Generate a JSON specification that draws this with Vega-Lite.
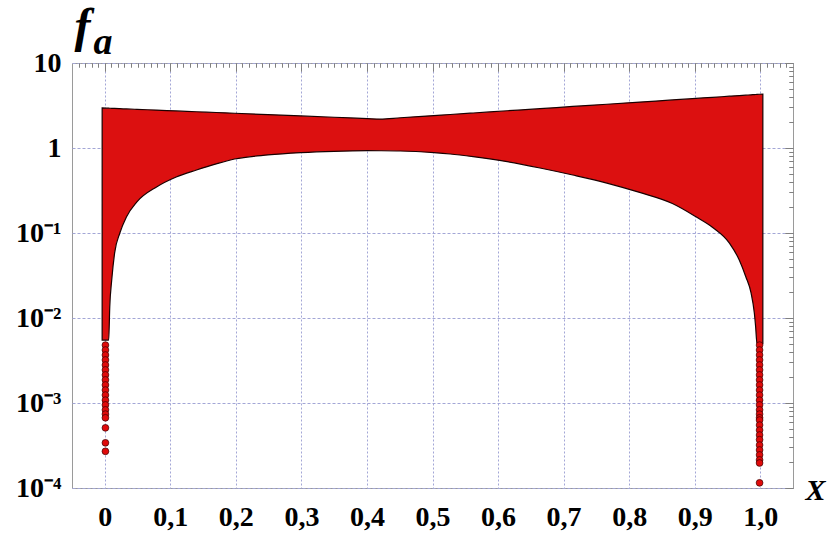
{
  "$schema": "https://vega.github.io/schema/vega-lite/v6.json",
  "width": 721,
  "height": 425,
  "autosize": {"type": "none"},
  "padding": {"left": 72, "top": 63, "right": 34, "bottom": 46},
  "background": "white",
  "config": {"view": {"stroke": "#9a9a9a", "strokeWidth": 1}},
  "datasets": {
    "band": [
      {"x": -0.004, "lo": 0.0055, "hi": 2.959},
      {"x": 0.006, "lo": 0.0055, "hi": 2.938},
      {"x": 0.0076, "lo": 0.0135, "hi": 2.936},
      {"x": 0.0106, "lo": 0.028, "hi": 2.930},
      {"x": 0.015, "lo": 0.058, "hi": 2.921},
      {"x": 0.023, "lo": 0.100, "hi": 2.904},
      {"x": 0.033, "lo": 0.154, "hi": 2.884},
      {"x": 0.049, "lo": 0.232, "hi": 2.850},
      {"x": 0.079, "lo": 0.348, "hi": 2.790},
      {"x": 0.109, "lo": 0.456, "hi": 2.731},
      {"x": 0.140, "lo": 0.551, "hi": 2.671},
      {"x": 0.170, "lo": 0.650, "hi": 2.615},
      {"x": 0.198, "lo": 0.742, "hi": 2.563},
      {"x": 0.249, "lo": 0.828, "hi": 2.472},
      {"x": 0.299, "lo": 0.881, "hi": 2.385},
      {"x": 0.350, "lo": 0.914, "hi": 2.300},
      {"x": 0.401, "lo": 0.929, "hi": 2.218},
      {"x": 0.420, "lo": 0.928, "hi": 2.188},
      {"x": 0.451, "lo": 0.922, "hi": 2.269},
      {"x": 0.502, "lo": 0.881, "hi": 2.407},
      {"x": 0.527, "lo": 0.850, "hi": 2.477},
      {"x": 0.562, "lo": 0.790, "hi": 2.580},
      {"x": 0.614, "lo": 0.690, "hi": 2.742},
      {"x": 0.664, "lo": 0.582, "hi": 2.905},
      {"x": 0.714, "lo": 0.481, "hi": 3.080},
      {"x": 0.766, "lo": 0.387, "hi": 3.271},
      {"x": 0.816, "lo": 0.300, "hi": 3.467},
      {"x": 0.866, "lo": 0.222, "hi": 3.675},
      {"x": 0.902, "lo": 0.155, "hi": 3.832},
      {"x": 0.927, "lo": 0.117, "hi": 3.945},
      {"x": 0.953, "lo": 0.0762, "hi": 4.067},
      {"x": 0.968, "lo": 0.0481, "hi": 4.138},
      {"x": 0.978, "lo": 0.0306, "hi": 4.187},
      {"x": 0.986, "lo": 0.0197, "hi": 4.226},
      {"x": 0.991, "lo": 0.01145, "hi": 4.251},
      {"x": 0.993, "lo": 0.0079, "hi": 4.261},
      {"x": 0.995, "lo": 0.0050, "hi": 4.271},
      {"x": 1.004, "lo": 0.0050, "hi": 4.315}
    ],
    "dots": [
      {"x": 0.001, "y": 0.0048}, {"x": 0.001, "y": 0.0042}, {"x": 0.001, "y": 0.00367},
      {"x": 0.001, "y": 0.00321}, {"x": 0.001, "y": 0.0028}, {"x": 0.001, "y": 0.00245},
      {"x": 0.001, "y": 0.00214}, {"x": 0.001, "y": 0.00187}, {"x": 0.001, "y": 0.00163},
      {"x": 0.001, "y": 0.00142}, {"x": 0.001, "y": 0.00124}, {"x": 0.001, "y": 0.00108},
      {"x": 0.001, "y": 0.00095}, {"x": 0.001, "y": 0.00083}, {"x": 0.001, "y": 0.00074},
      {"x": 0.001, "y": 0.00067}, {"x": 0.001, "y": 0.00051}, {"x": 0.001, "y": 0.00034},
      {"x": 0.001, "y": 0.00027},
      {"x": 0.999, "y": 0.0048}, {"x": 0.999, "y": 0.0042}, {"x": 0.999, "y": 0.00367},
      {"x": 0.999, "y": 0.00321}, {"x": 0.999, "y": 0.0028}, {"x": 0.999, "y": 0.00245},
      {"x": 0.999, "y": 0.00214}, {"x": 0.999, "y": 0.00187}, {"x": 0.999, "y": 0.00163},
      {"x": 0.999, "y": 0.00142}, {"x": 0.999, "y": 0.00124}, {"x": 0.999, "y": 0.00108},
      {"x": 0.999, "y": 0.00095}, {"x": 0.999, "y": 0.00083}, {"x": 0.999, "y": 0.00074},
      {"x": 0.999, "y": 0.00067}, {"x": 0.999, "y": 0.00063}, {"x": 0.999, "y": 0.00055},
      {"x": 0.999, "y": 0.00048}, {"x": 0.999, "y": 0.00042}, {"x": 0.999, "y": 0.00037},
      {"x": 0.999, "y": 0.00032}, {"x": 0.999, "y": 0.00028}, {"x": 0.999, "y": 0.000245},
      {"x": 0.999, "y": 0.000214}, {"x": 0.999, "y": 0.000197}, {"x": 0.999, "y": 0.000115}
    ]
  },
  "resolve": {"axis": {"x": "independent", "y": "independent"}},
  "layer": [
    {
      "data": {"name": "band"},
      "mark": {"type": "area", "fill": "#dc1010", "stroke": "#1a0000", "strokeWidth": 1.2, "interpolate": "monotone"},
      "encoding": {
        "x": {
          "field": "x", "type": "quantitative",
          "scale": {"domain": [-0.05, 1.05], "nice": false, "zero": false},
          "axis": {
            "values": [0, 0.1, 0.2, 0.3, 0.4, 0.5, 0.6, 0.7, 0.8, 0.9, 1.0],
            "labelExpr": "datum.value == 0 ? '0' : replace(format(datum.value, '.1f'), '.', ',')",
            "labelFont": "Liberation Serif", "labelFontWeight": "bold", "labelFontSize": 28,
            "labelColor": "#000", "labelPadding": 15, "labelFlush": false, "labelOverlap": false,
            "ticks": false, "domain": false,
            "grid": true, "gridColor": "#a3a6d6", "gridDash": [2, 2], "gridWidth": 1,
            "title": "X", "titleFont": "Liberation Serif", "titleFontStyle": "italic",
            "titleFontWeight": "bold", "titleFontSize": 30, "titleColor": "#000",
            "titleAngle": 0, "titleX": 733, "titleY": 11, "titleAlign": "left", "titleBaseline": "alphabetic",
            "zindex": 0
          }
        },
        "y": {
          "field": "lo", "type": "quantitative",
          "scale": {"type": "log", "domain": [0.0001, 10], "nice": false},
          "axis": {
            "values": [0.0001, 0.001, 0.01, 0.1, 1, 10],
            "labelExpr": "datum.value >= 1 ? format(datum.value, 'd') : round(log(datum.value)/LN10) == -1 ? '10⁻¹' : round(log(datum.value)/LN10) == -2 ? '10⁻²' : round(log(datum.value)/LN10) == -3 ? '10⁻³' : '10⁻⁴'",
            "labelFont": "Liberation Serif", "labelFontWeight": "bold", "labelFontSize": 28,
            "labelColor": "#000", "labelPadding": 11, "labelFlush": false, "labelOverlap": false,
            "ticks": false, "domain": false,
            "grid": true, "gridColor": "#a3a6d6", "gridDash": [3, 2], "gridWidth": 1,
            "title": "f", "titleFont": "Liberation Serif", "titleFontStyle": "italic",
            "titleFontWeight": "bold", "titleFontSize": 48, "titleColor": "#000",
            "titleAngle": 0, "titleX": 2, "titleY": -22, "titleAlign": "left", "titleBaseline": "alphabetic",
            "zindex": 0
          }
        },
        "y2": {"field": "hi"}
      }
    },
    {
      "data": {"name": "dots"},
      "mark": {"type": "circle", "size": 46, "fill": "#e00a0a", "stroke": "#3a0000", "strokeWidth": 0.7, "opacity": 1},
      "encoding": {
        "x": {
          "field": "x", "type": "quantitative",
          "axis": {"values": [0, 0.1, 0.2, 0.3, 0.4, 0.5, 0.6, 0.7, 0.8, 0.9, 1.0], "labels": false, "grid": false, "domain": false, "tickSize": -8, "tickColor": "#808080", "title": null, "zindex": 1}
        },
        "y": {
          "field": "y", "type": "quantitative",
          "axis": {"values": [0.0001, 0.001, 0.01, 0.1, 1, 10], "labels": false, "grid": false, "domain": false, "tickSize": -8, "tickColor": "#808080", "title": null, "zindex": 1}
        }
      }
    },
    {
      "data": {"name": "band"},
      "mark": {"type": "point", "opacity": 0},
      "encoding": {
        "x": {
          "field": "x", "type": "quantitative",
          "axis": {"values": [-0.04,-0.03,-0.02,-0.01,0.01,0.02,0.03,0.04,0.05,0.06,0.07,0.08,0.09,0.11,0.12,0.13,0.14,0.15,0.16,0.17,0.18,0.19,0.21,0.22,0.23,0.24,0.25,0.26,0.27,0.28,0.29,0.31,0.32,0.33,0.34,0.35,0.36,0.37,0.38,0.39,0.41,0.42,0.43,0.44,0.45,0.46,0.47,0.48,0.49,0.51,0.52,0.53,0.54,0.55,0.56,0.57,0.58,0.59,0.61,0.62,0.63,0.64,0.65,0.66,0.67,0.68,0.69,0.71,0.72,0.73,0.74,0.75,0.76,0.77,0.78,0.79,0.81,0.82,0.83,0.84,0.85,0.86,0.87,0.88,0.89,0.91,0.92,0.93,0.94,0.95,0.96,0.97,0.98,0.99,1.01,1.02,1.03,1.04], "labels": false, "grid": false, "domain": false, "tickSize": -4, "tickColor": "#808080", "title": null, "zindex": 1}
        },
        "y": {
          "field": "lo", "type": "quantitative",
          "axis": {"values": [0.0002,0.0003,0.0004,0.0005,0.0006,0.0007,0.0008,0.0009,0.002,0.003,0.004,0.005,0.006,0.007,0.008,0.009,0.02,0.03,0.04,0.05,0.06,0.07,0.08,0.09,0.2,0.3,0.4,0.5,0.6,0.7,0.8,0.9,2,3,4,5,6,7,8,9], "labels": false, "grid": false, "domain": false, "tickSize": -4, "tickColor": "#808080", "title": null, "zindex": 1}
        }
      }
    },
    {
      "data": {"name": "band"},
      "mark": {"type": "point", "opacity": 0},
      "encoding": {
        "x": {
          "field": "x", "type": "quantitative",
          "axis": {"orient": "top", "values": [0, 0.1, 0.2, 0.3, 0.4, 0.5, 0.6, 0.7, 0.8, 0.9, 1.0], "labels": false, "grid": false, "domain": false, "tickSize": -8, "tickColor": "#808080",
            "title": "a", "titleFont": "Liberation Serif", "titleFontStyle": "italic",
            "titleFontWeight": "bold", "titleFontSize": 38, "titleColor": "#000",
            "titleAngle": 0, "titleX": 21, "titleY": -10, "titleAlign": "left", "titleBaseline": "alphabetic",
            "zindex": 1}
        },
        "y": {
          "field": "hi", "type": "quantitative",
          "axis": {"orient": "right", "values": [0.0001, 0.001, 0.01, 0.1, 1, 10], "labels": false, "grid": false, "domain": false, "tickSize": -8, "tickColor": "#808080", "title": null, "zindex": 1}
        }
      }
    },
    {
      "data": {"name": "band"},
      "mark": {"type": "point", "opacity": 0},
      "encoding": {
        "x": {
          "field": "x", "type": "quantitative",
          "axis": {"orient": "top", "values": [-0.04,-0.03,-0.02,-0.01,0.01,0.02,0.03,0.04,0.05,0.06,0.07,0.08,0.09,0.11,0.12,0.13,0.14,0.15,0.16,0.17,0.18,0.19,0.21,0.22,0.23,0.24,0.25,0.26,0.27,0.28,0.29,0.31,0.32,0.33,0.34,0.35,0.36,0.37,0.38,0.39,0.41,0.42,0.43,0.44,0.45,0.46,0.47,0.48,0.49,0.51,0.52,0.53,0.54,0.55,0.56,0.57,0.58,0.59,0.61,0.62,0.63,0.64,0.65,0.66,0.67,0.68,0.69,0.71,0.72,0.73,0.74,0.75,0.76,0.77,0.78,0.79,0.81,0.82,0.83,0.84,0.85,0.86,0.87,0.88,0.89,0.91,0.92,0.93,0.94,0.95,0.96,0.97,0.98,0.99,1.01,1.02,1.03,1.04], "labels": false, "grid": false, "domain": false, "tickSize": -4, "tickColor": "#808080", "title": null, "zindex": 1}
        },
        "y": {
          "field": "hi", "type": "quantitative",
          "axis": {"orient": "right", "values": [0.0002,0.0003,0.0004,0.0005,0.0006,0.0007,0.0008,0.0009,0.002,0.003,0.004,0.005,0.006,0.007,0.008,0.009,0.02,0.03,0.04,0.05,0.06,0.07,0.08,0.09,0.2,0.3,0.4,0.5,0.6,0.7,0.8,0.9,2,3,4,5,6,7,8,9], "labels": false, "grid": false, "domain": false, "tickSize": -4, "tickColor": "#808080", "title": null, "zindex": 1}
        }
      }
    }
  ]
}
